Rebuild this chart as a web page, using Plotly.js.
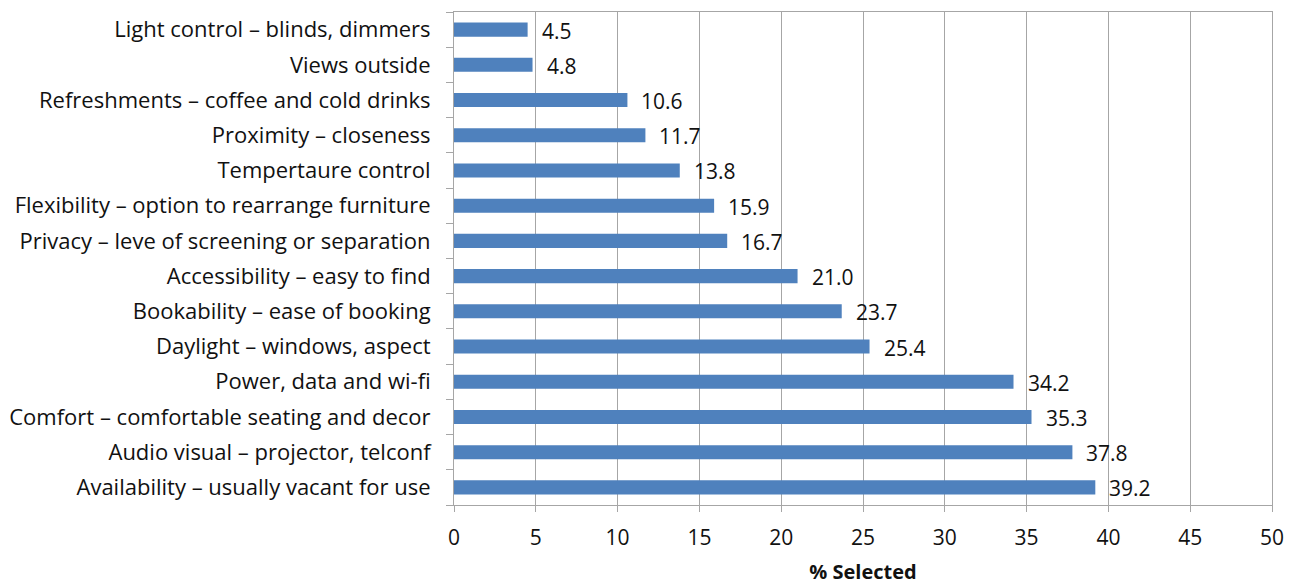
<!DOCTYPE html>
<html>
<head>
<meta charset="utf-8">
<script src="https://cdn.plot.ly/plotly-3.0.1.min.js"></script>
<style>
  html, body { margin: 0; padding: 0; background: #fff; }
  #chart { width: 1299px; height: 585px; }
</style>
</head>
<body>
<div id="chart"></div>
<script>
// Features of meeting rooms, listed bottom to top
const features = [
  "Availability – usually vacant for use",
  "Audio visual – projector, telconf",
  "Comfort – comfortable seating and decor",
  "Power, data and wi-fi",
  "Daylight – windows, aspect",
  "Bookability – ease of booking",
  "Accessibility – easy to find",
  "Privacy – leve of screening or separation",
  "Flexibility – option to rearrange furniture",
  "Tempertaure control",
  "Proximity – closeness",
  "Refreshments – coffee and cold drinks",
  "Views outside",
  "Light control – blinds, dimmers"
];
const pctSelected = [39.2, 37.8, 35.3, 34.2, 25.4, 23.7, 21.0, 16.7, 15.9, 13.8, 11.7, 10.6, 4.8, 4.5];
const xTicks = [0, 5, 10, 15, 20, 25, 30, 35, 40, 45, 50];

const font = "'Open Sans', sans-serif";
const gridColor = "#A6A6A6";
const textColor = "#111";

const trace = {
  type: "bar",
  orientation: "h",
  x: pctSelected,
  y: features,
  marker: { color: "#4F81BD" },
  hoverinfo: "x+y"
};

// Value labels placed just past each bar end
const valueLabels = pctSelected.map((v, i) => ({
  x: v,
  y: features[i],
  xref: "x",
  yref: "y",
  text: v.toFixed(1),
  showarrow: false,
  xanchor: "left",
  yanchor: "middle",
  xshift: 12,
  yshift: -1,
  font: { family: font, size: 21, color: textColor }
}));

const layout = {
  width: 1299,
  height: 585,
  margin: { l: 454, r: 27, t: 12, b: 80 },
  paper_bgcolor: "#fff",
  plot_bgcolor: "#fff",
  bargap: 0.6,
  showlegend: false,
  font: { family: font, size: 21, color: textColor },
  xaxis: {
    range: [0, 50],
    tickvals: xTicks,
    ticktext: xTicks.map(String),
    showgrid: true,
    gridcolor: gridColor,
    gridwidth: 1,
    zeroline: false,
    showline: true,
    linecolor: gridColor,
    linewidth: 1,
    mirror: true,
    ticks: "outside",
    ticklen: 6,
    tickcolor: gridColor,
    ticklabelstandoff: 8,
    tickfont: { family: font, size: 21, color: textColor },
    title: {
      text: "<b>% Selected</b>",
      font: { family: font, size: 20, color: textColor },
      standoff: 17
    },
    fixedrange: true
  },
  yaxis: {
    type: "category",
    categoryorder: "array",
    categoryarray: features,
    showgrid: false,
    zeroline: false,
    showline: true,
    linecolor: gridColor,
    linewidth: 1,
    mirror: true,
    ticks: "outside",
    tickson: "boundaries",
    ticklen: 7,
    tickcolor: gridColor,
    ticklabelstandoff: 18,
    tickfont: { family: font, size: 22, color: textColor },
    fixedrange: true
  },
  annotations: valueLabels
};

Plotly.newPlot("chart", [trace], layout, { displayModeBar: false, staticPlot: true });
</script>
</body>
</html>
